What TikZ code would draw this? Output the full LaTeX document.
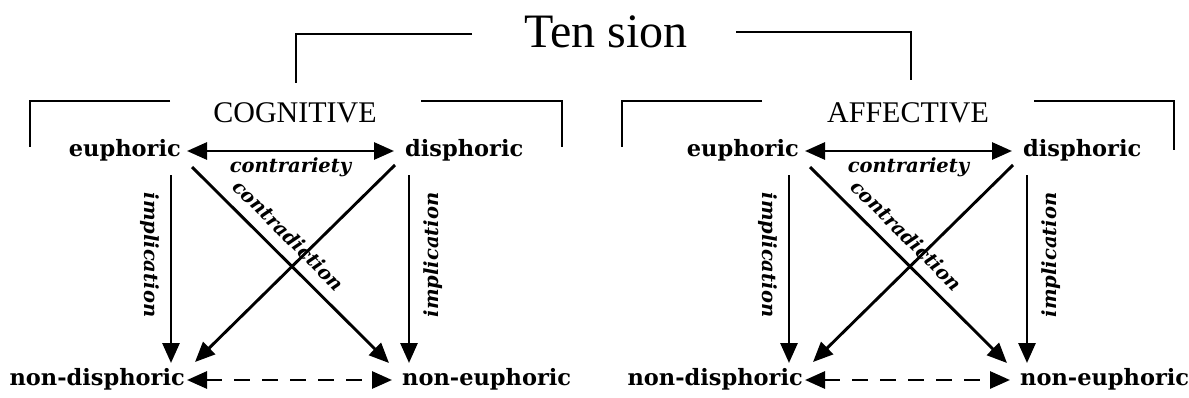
\documentclass[tikz,border=0pt]{standalone}
\usepackage{fontspec}
\setmainfont{Liberation Serif}
\newfontfamily\lblfont{DejaVu Serif}
\usetikzlibrary{arrows.meta,calc}
\begin{document}
\begin{tikzpicture}[x=1pt,y=-1pt,
  >={Triangle[length=20pt,width=17pt]},
  term/.style={inner sep=0pt, font=\lblfont\bfseries\fontsize{22.5}{24}\selectfont},
  rel/.style={inner sep=0pt, font=\lblfont\bfseries\itshape\fontsize{19.5}{21}\selectfont},
  head/.style={inner sep=0pt, font=\fontsize{30}{32}\selectfont},
  frame/.style={line width=2.6pt},
  link/.style={line width=2.9pt}]
\useasboundingbox (0,0) rectangle (1189,397);

% title and the two dimension headings
\node[inner sep=0pt, font=\fontsize{48}{50}\selectfont, anchor=base] (tension) at (606,47) {Ten sion};
\node[head, anchor=base] (cog) at (295,122) {COGNITIVE};
\node[head, anchor=base] (aff) at (908,122) {AFFECTIVE};

% brackets
\draw[frame] (472,34) -- (296,34) -- (296,83);
\draw[frame] (736,32) -- (911,32) -- (911,80);
\draw[frame] (170,101) -- (30,101) -- (30,147);
\draw[frame] (421,101) -- (562,101) -- (562,147);
\draw[frame] (762,101) -- (622,101) -- (622,147);
\draw[frame] (1034,101) -- (1174,101) -- (1174,150);

% one semiotic square per dimension
\foreach \p/\dx in {L/0, R/618} {
\begin{scope}[xshift=\dx pt, name prefix=\p-]
  \node[term, anchor=base east] (eu)  at (181,156) {euphoric};
  \node[term, anchor=base west] (dis) at (405,156) {disphoric};
  \node[term, anchor=base east] (nd)  at (185,385) {non-disphoric};
  \node[term, anchor=base west] (ne)  at (402,385) {non-euphoric};

  \draw[link,<->] ($(eu.base east)+(6,-5)$) -- ($(dis.base west)+(-11,-5)$)
    node[rel, midway, anchor=base, yshift=-21pt] {contrariety};
  \draw[link,->] ($(eu.base east)+(-10,19)$) -- ($(nd.base east)+(-14,-22)$)
    node[rel, pos=.425, xshift=-21pt, rotate=-90] {implication};
  \draw[link,->] ($(dis.base west)+(4,19)$) -- ($(ne.base west)+(7,-22)$)
    node[rel, pos=.425, xshift=24pt, rotate=90] {implication};
  \draw[link,->] ($(eu.base east)+(11,11)$) -- ($(ne.base west)+(-13,-22)$)
    node[rel, sloped, pos=.42, above=11pt] {contradiction};
  \draw[link,->] ($(dis.base west)+(-10,9)$) -- ($(nd.base east)+(10,-23)$);
  \draw[link,<->, dash pattern=on 16pt off 12pt] ($(nd.base east)+(2,-5)$) -- ($(ne.base west)+(-10,-5)$);
\end{scope}
}
\end{tikzpicture}
\end{document}
